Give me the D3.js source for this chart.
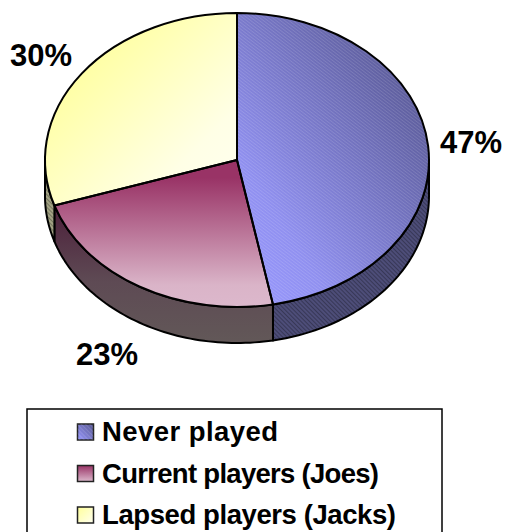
<!DOCTYPE html>
<html><head><meta charset="utf-8">
<style>html,body{margin:0;padding:0;background:#fff}svg{display:block}</style>
<script src="https://cdn.jsdelivr.net/npm/d3@7"></script></head><body><svg id="c" width="505" height="532"></svg>
<script>
const categories=["Never played","Current players (Joes)","Lapsed players (Jacks)"];
const values=[47,23,30];
const labels=["47%","23%","30%"];
const W=505,H=532,cx=237,cy=160,rx=192,ry=147,depth=36;
const svg=d3.select("#c");
const defs=svg.append("defs");
function lin(id,x1,y1,x2,y2,stops){
  const g=defs.append("linearGradient").attr("id",id).attr("x1",x1).attr("y1",y1).attr("x2",x2).attr("y2",y2);
  stops.forEach(s=>g.append("stop").attr("offset",s[0]).attr("stop-color",s[1]));
}
lin("gBlue",1,0,0,1,[[0,"#55558f"],[.2,"#5f5f9f"],[.75,"#9090f0"],[1,"#9999ff"]]);
lin("gRed",0,0,0,1,[[0,"#993366"],[.12,"#993366"],[.85,"#dab4c8"],[1,"#dcb8cc"]]);
lin("gYel",0,0,1,1,[[0,"#ffff99"],[.25,"#ffffa6"],[.75,"#ffffe6"],[1,"#fffff0"]]);
lin("gRedSide",0,0,0,1,[[0,"#4c1f3a"],[.55,"#5e4a54"],[1,"#625858"]]);
lin("gLegBlue",1,0,0,1,[[0,"#55558f"],[1,"#9999ff"]]);
lin("gLegRed",0,0,0,1,[[0,"#993366"],[1,"#dcb8cc"]]);
lin("gLegYel",0,0,1,1,[[0,"#ffff99"],[1,"#fffff0"]]);
function hatch(id,col,op){
  const p=defs.append("pattern").attr("id",id).attr("patternUnits","userSpaceOnUse").attr("width",3).attr("height",3).attr("patternTransform","rotate(-45)");
  p.append("rect").attr("width",1).attr("height",3).attr("fill",col).attr("opacity",op);
}
hatch("hLight","#ffffff",.13);
hatch("hDark","#000000",.28);

const pie=d3.pie().sort(null).value(d=>d);
const arcs=pie(values);
const fills=["url(#gBlue)","url(#gRed)","url(#gYel)"];
const k=ry/rx;
const px=a=>cx+rx*Math.sin(a), py=a=>cy-ry*Math.cos(a);

const wall=d3.line();
const lo=Math.PI/2,hi=3*Math.PI/2;
const sideFills=["#4d4d78","url(#gRedSide)","#a3a384"];
const sideG=svg.append("g");
arcs.forEach((d,i)=>{
  const a0=Math.max(d.startAngle,lo),a1=Math.min(d.endAngle,hi);
  if(a1<=a0)return;
  const as=d3.range(0,61).map(t=>a0+(a1-a0)*t/60);
  const top=as.map(a=>[px(a),py(a)]);
  const bot=as.slice().reverse().map(a=>[px(a),py(a)+depth]);
  const path=wall(top.concat(bot))+"Z";
  sideG.append("path").attr("d",path).attr("fill",sideFills[i]).attr("stroke","#000").attr("stroke-width",2).attr("stroke-linejoin","round");
  if(i!==1) sideG.append("path").attr("d",path).attr("fill","url(#hDark)");
});

const arc=d3.arc().innerRadius(0).outerRadius(rx);
const topG=svg.append("g").attr("transform",`translate(${cx},${cy}) scale(1,${k})`);
arcs.forEach((d,i)=>{
  topG.append("path").attr("d",arc(d)).attr("fill",fills[i]);
  if(i===0) topG.append("path").attr("d",arc(d)).attr("fill","url(#hLight)");
});
arcs.forEach(d=>{
  topG.append("path").attr("d",arc(d)).attr("fill","none").attr("stroke","#000").attr("stroke-width",2).attr("vector-effect","non-scaling-stroke").attr("stroke-linejoin","round");
});

const font='"Liberation Sans",Arial,sans-serif';
const labelPos=[[471,153],[107,365],[41,66]];
labels.forEach((t,i)=>svg.append("text").attr("x",labelPos[i][0]).attr("y",labelPos[i][1]).attr("text-anchor","middle")
  .attr("font-family",font).attr("font-weight",700).attr("font-size",31).attr("fill","#000").text(t));

const lg=svg.append("g");
lg.append("rect").attr("x",27).attr("y",409).attr("width",415).attr("height",130).attr("fill","#fff").attr("stroke","#000").attr("stroke-width",1.5);
const ly=d3.scalePoint().domain(categories).range([432,515]);
const legFill=["url(#gLegBlue)","url(#gLegRed)","url(#gLegYel)"];
const legWidths=[176,277,294];
categories.forEach((c,i)=>{
  const y=ly(c);
  lg.append("rect").attr("x",77.5).attr("y",y-8).attr("width",16).attr("height",16).attr("fill",legFill[i]).attr("stroke","#222").attr("stroke-width",1.5);
  if(i===0) lg.append("rect").attr("x",77.5).attr("y",y-8).attr("width",16).attr("height",16).attr("fill","url(#hLight)");
  lg.append("text").attr("x",102).attr("y",y+9).attr("font-family",font).attr("font-weight",700).attr("font-size",27.5)
    .attr("textLength",legWidths[i]).attr("lengthAdjust","spacing").attr("fill","#000").text(c);
});
</script></body></html>
